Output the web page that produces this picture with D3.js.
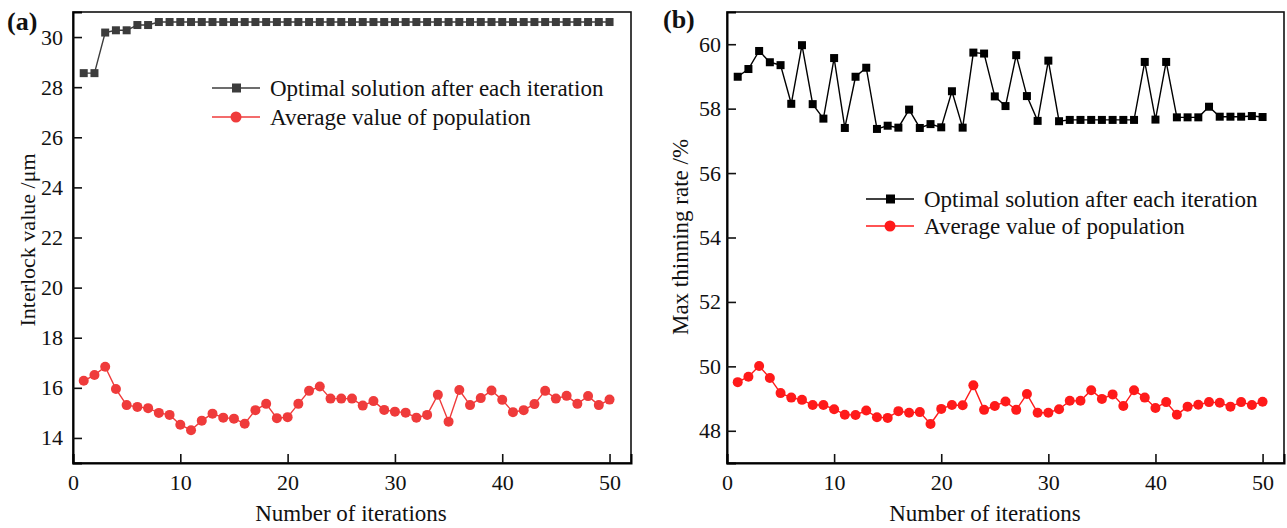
<!DOCTYPE html>
<html>
<head>
<meta charset="utf-8">
<script src="https://cdn.jsdelivr.net/npm/d3@7"></script>
<style>
  body { margin: 0; background: #fff; }
  text { font-family: "Liberation Serif", "Times New Roman", serif; fill: #111; }
</style>
</head>
<body>
<div id="chart"></div>
<script>
// iterations 1..50
var iterations = d3.range(1, 51);

// panel (a): interlock value /um
var interlockBest = [28.56, 28.56, 30.18, 30.27, 30.27, 30.48, 30.48, 30.6, 30.6, 30.6,
  30.6, 30.6, 30.6, 30.6, 30.6, 30.6, 30.6, 30.6, 30.6, 30.6,
  30.6, 30.6, 30.6, 30.6, 30.6, 30.6, 30.6, 30.6, 30.6, 30.6,
  30.6, 30.6, 30.6, 30.6, 30.6, 30.6, 30.6, 30.6, 30.6, 30.6,
  30.6, 30.6, 30.6, 30.6, 30.6, 30.6, 30.6, 30.6, 30.6, 30.6];
var interlockAvg = [16.28, 16.51, 16.84, 15.95, 15.31, 15.24, 15.19, 15.0, 14.92, 14.53,
  14.31, 14.69, 14.97, 14.81, 14.77, 14.57, 15.11, 15.36, 14.79, 14.83,
  15.36, 15.88, 16.05, 15.57, 15.57, 15.57, 15.29, 15.47, 15.12, 15.05,
  15.01, 14.81, 14.92, 15.72, 14.65, 15.91, 15.31, 15.59, 15.89, 15.52,
  15.03, 15.11, 15.35, 15.88, 15.57, 15.68, 15.36, 15.67, 15.31, 15.53];

// panel (b): max thinning rate /%
var thinningBest = [58.99, 59.23, 59.79, 59.44, 59.35, 58.15, 59.97, 58.14, 57.69, 59.57,
  57.40, 58.99, 59.27, 57.37, 57.47, 57.41, 57.97, 57.40, 57.52, 57.42,
  58.54, 57.41, 59.74, 59.71, 58.38, 58.08, 59.66, 58.39, 57.62, 59.49,
  57.61, 57.65, 57.65, 57.65, 57.65, 57.65, 57.65, 57.65, 59.45, 57.66,
  59.45, 57.73, 57.73, 57.73, 58.06, 57.75, 57.75, 57.75, 57.77, 57.74];
var thinningAvg = [49.51, 49.68, 50.01, 49.64, 49.17, 49.03, 48.96, 48.80, 48.80, 48.67,
  48.50, 48.49, 48.63, 48.42, 48.40, 48.61, 48.56, 48.58, 48.21, 48.68,
  48.80, 48.79, 49.41, 48.65, 48.77, 48.91, 48.65, 49.14, 48.56, 48.56,
  48.67, 48.93, 48.93, 49.26, 48.99, 49.13, 48.77, 49.26, 49.03, 48.71,
  48.89, 48.50, 48.75, 48.81, 48.89, 48.87, 48.75, 48.89, 48.80, 48.90];

var legendNames = ["Optimal solution after each iteration", "Average value of population"];
var xTicks = [0, 10, 20, 30, 40, 50];
var yTicksA = [14, 16, 18, 20, 22, 24, 26, 28, 30];
var yTicksB = [48, 50, 52, 54, 56, 58, 60];

var W = 1287, H = 528;
var svg = d3.select("#chart").append("svg")
  .attr("width", W)
  .attr("height", H);

function drawPanel(p) {
  var x = d3.scaleLinear().domain([0, 52]).range([p.left, p.right]);
  var y = d3.scaleLinear().domain(p.yDomain).range([p.bottom, p.top]);
  var g = svg.append("g");

  // frame
  g.append("rect")
    .attr("x", p.left).attr("y", p.top)
    .attr("width", p.right - p.left).attr("height", p.bottom - p.top)
    .attr("fill", "none").attr("stroke", "#111").attr("stroke-width", 1.6);

  // x axis (ticks inward)
  var xAxis = g.append("g").attr("transform", "translate(0," + p.bottom + ")");
  xAxis.call(d3.axisBottom(x).tickValues(d3.range(5, 51, 10)).tickSize(-6).tickFormat(""));
  xAxis.call(d3.axisBottom(x).tickValues(xTicks).tickSize(-9).tickPadding(11));
  xAxis.selectAll(".domain").attr("stroke-width", 2);
  xAxis.selectAll("line").attr("stroke", "#111").attr("stroke-width", 1.6);
  xAxis.selectAll("text").attr("font-size", 22).style("font-family", "Liberation Serif");

  // y axis (ticks inward)
  var yAxis = g.append("g").attr("transform", "translate(" + p.left + ",0)");
  yAxis.call(d3.axisLeft(y).tickValues(p.yMinor).tickSize(-6).tickFormat(""));
  yAxis.call(d3.axisLeft(y).tickValues(p.yTicks).tickSize(-9).tickPadding(p.yPad));
  yAxis.selectAll(".domain").attr("stroke-width", 2);
  yAxis.selectAll("line").attr("stroke", "#111").attr("stroke-width", 1.6);
  yAxis.selectAll("text").attr("font-size", 22).style("font-family", "Liberation Serif");

  // axis titles
  g.append("text")
    .attr("x", p.xTitleX).attr("y", 521)
    .attr("text-anchor", "middle").attr("font-size", 23)
    .text("Number of iterations");
  g.append("text")
    .attr("transform", "translate(" + p.yTitleX + "," + p.yTitleY + ") rotate(-90)")
    .attr("text-anchor", "middle").attr("font-size", p.yTitleSize)
    .text(p.yTitle);

  // panel tag
  g.append("text")
    .attr("x", p.tagX).attr("y", p.tagY)
    .attr("font-size", 26).attr("font-weight", "bold")
    .text(p.tag);

  var line = d3.line()
    .x(function(d, i) { return x(iterations[i]); })
    .y(function(d) { return y(d); });

  // average series
  g.append("path").datum(p.avg)
    .attr("d", line).attr("fill", "none")
    .attr("stroke", p.redColor).attr("stroke-width", 1.4);
  g.selectAll(".avgPt").data(p.avg).enter().append("circle")
    .attr("cx", function(d, i) { return x(iterations[i]); })
    .attr("cy", function(d) { return y(d); })
    .attr("r", 5).attr("fill", p.redColor);

  // best series
  g.append("path").datum(p.best)
    .attr("d", line).attr("fill", "none")
    .attr("stroke", p.bestColor).attr("stroke-width", 1.4);
  g.selectAll(".bestPt").data(p.best).enter().append("rect")
    .attr("x", function(d, i) { return x(iterations[i]) - 4; })
    .attr("y", function(d) { return y(d) - 4; })
    .attr("width", 8).attr("height", 8).attr("fill", p.bestColor);

  // legend
  var lg = g.append("g");
  legendNames.forEach(function(name, i) {
    var ly = p.legY + i * p.legGap;
    var col = i === 0 ? p.bestColor : p.redColor;
    lg.append("line")
      .attr("x1", p.legX).attr("x2", p.legX + 48)
      .attr("y1", ly).attr("y2", ly)
      .attr("stroke", col).attr("stroke-width", 1.4);
    if (i === 0) {
      lg.append("rect").attr("x", p.legX + 20).attr("y", ly - 4.5)
        .attr("width", 9).attr("height", 9).attr("fill", col);
    } else {
      lg.append("circle").attr("cx", p.legX + 24).attr("cy", ly).attr("r", 5.5).attr("fill", col);
    }
    lg.append("text")
      .attr("x", p.legX + 58).attr("y", ly + 8)
      .attr("font-size", 23)
      .text(name);
  });
}

drawPanel({
  left: 73, right: 631, top: 12, bottom: 463,
  yDomain: [13, 31], yTicks: yTicksA, yMinor: d3.range(13, 32, 1),
  best: interlockBest, avg: interlockAvg,
  bestColor: "#3c3c3c", redColor: "#ef3b3b",
  yPad: 10, xTitleX: 351,
  yTitle: "Interlock value /\u03bcm", yTitleX: 35, yTitleY: 240, yTitleSize: 22,
  tag: "(a)", tagX: 7, tagY: 30,
  legX: 212, legY: 88, legGap: 29
});

drawPanel({
  left: 727, right: 1284, top: 12, bottom: 463,
  yDomain: [47, 61], yTicks: yTicksB, yMinor: d3.range(47, 62, 1),
  best: thinningBest, avg: thinningAvg,
  bestColor: "#000000", redColor: "#ff1a1a",
  yPad: 6, xTitleX: 985,
  yTitle: "Max thinning rate /%", yTitleX: 688, yTitleY: 237, yTitleSize: 23,
  tag: "(b)", tagX: 663, tagY: 28,
  legX: 866, legY: 199, legGap: 27
});
</script>
</body>
</html>
